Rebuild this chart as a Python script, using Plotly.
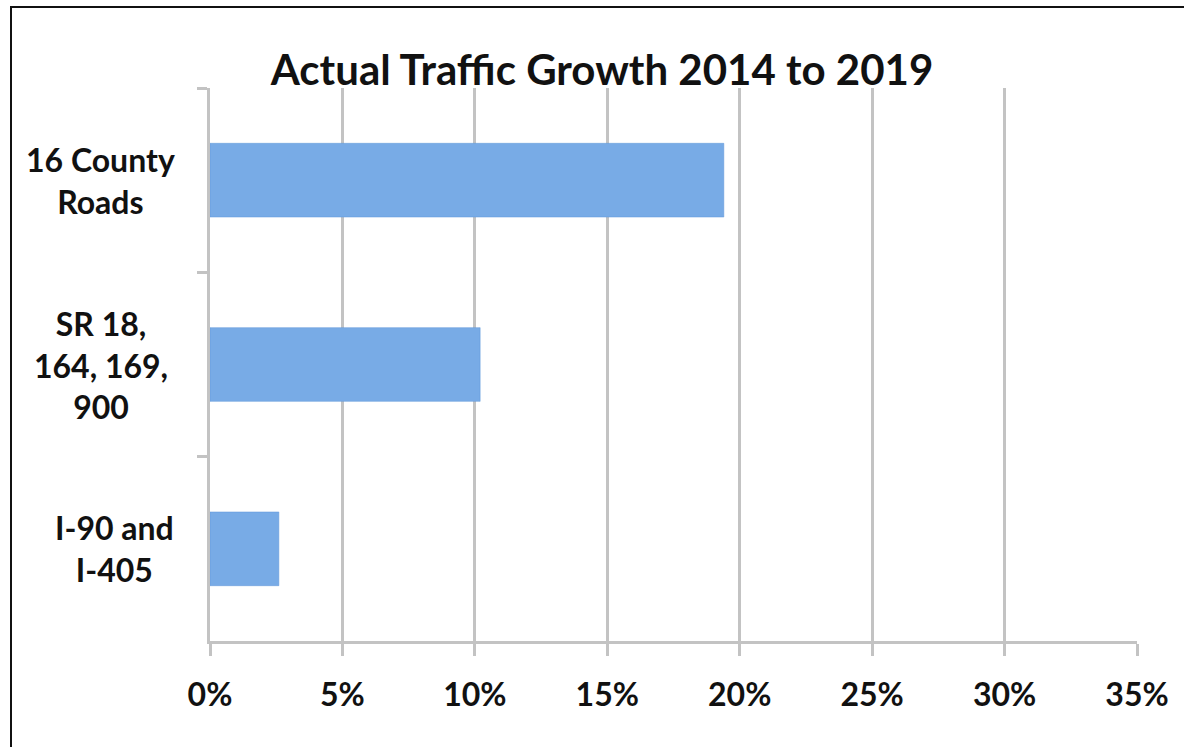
import plotly.graph_objects as go

categories = ["16 County Roads", "SR 18, 164, 169, 900", "I-90 and I-405"]
category_labels = ["16 County<br>Roads", "SR 18,<br>164, 169,<br>900", "I-90 and<br>I-405"]
growth_pct = [19.4, 10.2, 2.6]
x_ticks = [0, 5, 10, 15, 20, 25, 30, 35]
x_tick_labels = ["0%", "5%", "10%", "15%", "20%", "25%", "30%", "35%"]
title_text = "Actual Traffic Growth 2014 to 2019"

FONT = "Lato"
GRID = "#c3c3c3"

fig = go.Figure()
fig.add_trace(go.Bar(
    y=categories,
    x=growth_pct,
    orientation="h",
    marker=dict(color="#78abe6", line=dict(color="#5f97d8", width=0.5)),
    width=0.4,
    hoverinfo="x+y",
))

# Category labels as centered annotations
label_x = [-0.118, -0.118, -0.103]
for cat, lab, lx in zip(categories, category_labels, label_x):
    fig.add_annotation(
        x=lx, xref="paper", y=cat, yref="y",
        text=lab, showarrow=False, xanchor="center", yanchor="middle",
        align="center",
        font=dict(family=FONT, size=32, color="#111111", weight="bold"),
    )

# outer border
fig.add_shape(type="rect", xref="paper", yref="paper",
              x0=(11 - 210) / 927, x1=(1195 - 210) / 927,
              y0=(641 - 760) / 553, y1=(641 - 7) / 553,
              line=dict(color="#111111", width=2), fillcolor="rgba(0,0,0,0)",
              layer="below")

fig.update_layout(
    width=1184, height=747,
    margin=dict(l=210, r=47, t=88, b=106),
    paper_bgcolor="white", plot_bgcolor="white",
    showlegend=False,
    title=dict(text=title_text, x=(602) / 1184, xanchor="center",
               y=1 - 70 / 747, yanchor="middle",
               font=dict(family=FONT, size=42, color="#111111", weight="bold")),
    font=dict(family=FONT),
)

fig.update_xaxes(
    range=[0, 35], tickvals=x_ticks, ticktext=x_tick_labels,
    showgrid=True, gridcolor=GRID, gridwidth=2.5,
    showline=True, linecolor=GRID, linewidth=2.5,
    ticks="outside", ticklen=12, tickwidth=2.5, tickcolor=GRID,
    tickfont=dict(family=FONT, size=32, color="#111111", weight="bold"),
    zeroline=False, fixedrange=True, ticklabelstandoff=12,
)
fig.update_yaxes(
    categoryorder="array", categoryarray=categories, autorange="reversed",
    showticklabels=False, showgrid=False,
    showline=True, linecolor=GRID, linewidth=2.5,
    ticks="outside", tickson="boundaries", ticklen=10, tickwidth=2.5, tickcolor=GRID,
    zeroline=False, fixedrange=True,
)

fig.write_html("out.html")
